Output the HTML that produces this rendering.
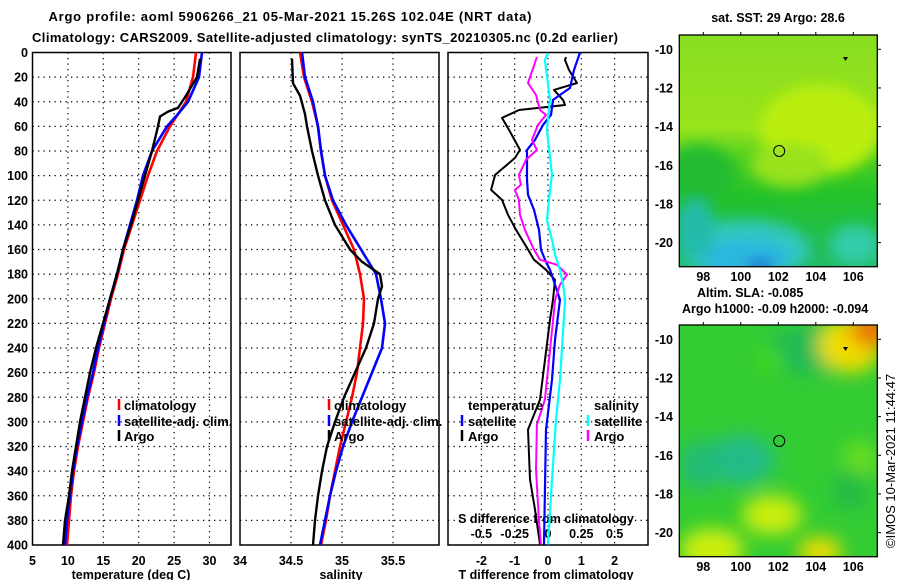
<!DOCTYPE html>
<html><head><meta charset="utf-8"><style>
html,body{margin:0;padding:0;background:#fff;}
svg{display:block;font-family:"Liberation Sans",Arial,sans-serif;}
.t{font-weight:bold;font-size:13px;fill:#000;}
.tk{font-weight:bold;font-size:12.5px;fill:#000;}
</style></head><body>
<svg id="s" width="900" height="580" viewBox="0 0 900 580" xmlns="http://www.w3.org/2000/svg">
<defs>
<filter id="blur1" x="-20%" y="-20%" width="140%" height="140%"><feGaussianBlur stdDeviation="7"/></filter>
<filter id="blur2" x="-20%" y="-20%" width="140%" height="140%"><feGaussianBlur stdDeviation="9"/></filter>
<clipPath id="c1"><rect x="679.3" y="35" width="198" height="231.7"/></clipPath>
<clipPath id="c2"><rect x="679.3" y="325" width="198" height="231.7"/></clipPath>
<linearGradient id="g1" x1="0" y1="0" x2="0" y2="1">
<stop offset="0" stop-color="#88dd22"/><stop offset="0.4" stop-color="#99e41c"/><stop offset="0.55" stop-color="#44cc22"/><stop offset="0.7" stop-color="#22c22a"/><stop offset="1" stop-color="#22bb66"/></linearGradient>
</defs>
<text class="t" x="290" y="21" text-anchor="middle" textLength="483">Argo profile: aoml 5906266_21 05-Mar-2021 15.26S 102.04E (NRT data)</text>
<text class="t" x="325" y="42" text-anchor="middle" textLength="586">Climatology: CARS2009. Satellite-adjusted climatology: synTS_20210305.nc (0.2d earlier)</text>
<g id="p1"></g>
<g id="p2"></g>
<g id="p3"></g>

<g>
<text class="tk" x="778" y="22" text-anchor="middle">sat. SST: 29 Argo: 28.6</text>
<g clip-path="url(#c1)">
<rect x="679.3" y="35" width="198" height="231.7" fill="url(#g1)"/>
<g filter="url(#blur1)">
<ellipse cx="820" cy="130" rx="60" ry="45" fill="#bbee11"/>
<ellipse cx="790" cy="165" rx="40" ry="22" fill="#99e21c"/>
<ellipse cx="700" cy="175" rx="35" ry="30" fill="#22bb33"/>
<ellipse cx="745" cy="250" rx="65" ry="30" fill="#33c8c0"/>
<ellipse cx="745" cy="258" rx="45" ry="18" fill="#2ab8e0"/>
<ellipse cx="855" cy="245" rx="25" ry="20" fill="#33ccaa"/>
<ellipse cx="695" cy="230" rx="20" ry="30" fill="#22bbaa"/>
<ellipse cx="760" cy="266" rx="14" ry="6" fill="#2255cc"/>
</g>
</g>
<rect x="679.3" y="35" width="198" height="231.7" fill="none" stroke="#000" stroke-width="1.3"/>
<circle cx="779.2" cy="151" r="5.5" fill="none" stroke="#000" stroke-width="1"/>
<path d="M843 57 l5 0 l-2.5 4z" fill="#000"/>
<g id="m1ax"></g>
</g>
<text class="tk" x="697" y="297">Altim. SLA: -0.085</text>
<text class="tk" x="682" y="313">Argo h1000: -0.09 h2000: -0.094</text>
<g>
<g clip-path="url(#c2)">
<rect x="679.3" y="325" width="198" height="231.7" fill="#33cc33"/>
<g filter="url(#blur2)">
<ellipse cx="740" cy="460" rx="35" ry="25" fill="#22bb88"/>
<ellipse cx="700" cy="465" rx="20" ry="25" fill="#22bb77"/>
<ellipse cx="810" cy="350" rx="40" ry="25" fill="#22bb55"/>
<ellipse cx="850" cy="345" rx="32" ry="28" fill="#eedd00"/>
<ellipse cx="872" cy="330" rx="22" ry="18" fill="#ee7700"/>
<ellipse cx="772" cy="515" rx="30" ry="20" fill="#ccee11"/>
<ellipse cx="712" cy="550" rx="32" ry="22" fill="#ccee11"/>
<ellipse cx="820" cy="552" rx="22" ry="15" fill="#eedd00"/>
<ellipse cx="770" cy="360" rx="12" ry="10" fill="#44dd11"/>
<ellipse cx="860" cy="460" rx="18" ry="20" fill="#66dd22"/>
<ellipse cx="850" cy="490" rx="18" ry="20" fill="#22bb44"/>
</g>
</g>
<rect x="679.3" y="325" width="198" height="231.7" fill="none" stroke="#000" stroke-width="1.3"/>
<circle cx="779.2" cy="441" r="5.5" fill="none" stroke="#000" stroke-width="1"/>
<path d="M843 347 l5 0 l-2.5 4z" fill="#000"/>
<g id="m2ax"></g>
</g>
<text x="895" y="548" font-size="13" transform="rotate(-90 895 548)">©IMOS 10-Mar-2021 11:44:47</text>
</svg>
<script>
// ---------- data ----------
const depthTicks=[0,20,40,60,80,100,120,140,160,180,200,220,240,260,280,300,320,340,360,380,400];
const tempTicks=[5,10,15,20,25,30];
const salTicks=["34","34.5","35","35.5"];
const tdTicks=[-2,-1,0,1,2];
const sdTicks=["-0.5","-0.25","0","0.25","0.5"];
const lonTicks=[98,100,102,104,106];
const latTicks=[-10,-12,-14,-16,-18,-20];

const climDepth=[0,20,40,50,60,80,100,120,140,160,180,200,220,240,260,280,300,320,340,360,380,400];
const tempClim=[28.09,27.67,26.68,25.55,24.42,22.58,21.31,20.18,19.05,17.92,17.08,16.09,15.24,14.39,13.69,12.84,12.13,11.43,10.86,10.44,10.16,9.87];
const tempSat=[28.94,28.52,26.96,25.55,24.0,21.88,20.61,19.76,18.77,17.78,16.94,15.95,15.1,14.25,13.55,12.7,11.99,11.29,10.72,10.3,9.87,9.59];
const argoTDepth=[5,20,35,45,48,52,60,80,100,120,140,160,180,200,220,240,260,280,300,320,340,360,380,400];
const tempArgo=[28.66,28.23,26.68,25.55,24.14,23.01,22.73,21.88,20.89,19.9,18.91,17.78,16.94,15.95,14.96,13.97,13.12,12.42,11.71,11.14,10.58,10.16,9.59,9.31];

const salDepth=[0,20,40,60,80,100,120,140,160,180,200,220,240,260,280,300,320,340,360,380,400];
const salClim=[34.588,34.627,34.706,34.765,34.794,34.833,34.902,35.01,35.118,35.176,35.216,35.206,35.176,35.147,35.098,35.039,34.98,34.931,34.882,34.843,34.794];
const salSat=[34.608,34.637,34.716,34.765,34.794,34.833,34.912,35.039,35.186,35.333,35.382,35.422,35.392,35.294,35.196,35.098,35.01,34.941,34.882,34.833,34.784];
const argoSDepth=[5,25,35,50,60,80,100,120,140,160,170,180,190,200,220,240,260,280,300,320,340,360,380,400];
const salArgo=[34.51,34.52,34.588,34.637,34.657,34.706,34.765,34.833,34.931,35.078,35.196,35.373,35.392,35.353,35.314,35.235,35.127,35.02,34.931,34.853,34.804,34.765,34.735,34.716];

const dTArgoDepth=[3.7,6.1,14.2,24.8,30.4,38.5,42.6,46.7,53.1,62.9,79.1,85.6,99.4,111.6,119.7,131.8,144,158.6,168.3,176.5,184.6,200.8,217,249.5,281.9,306.3,346.8,371.2,399.6];
const dTArgo=[0.54,0.51,0.63,0.87,0.18,0.45,0.51,-0.87,-1.38,-1.17,-0.84,-0.99,-1.59,-1.71,-1.38,-1.2,-0.96,-0.63,-0.42,-0.06,0.21,0.15,0.06,-0.09,-0.24,-0.6,-0.54,-0.39,-0.24];
const dTSatDepth=[0,14.2,28.8,38.5,50.7,58.8,71,79.1,103.4,115.6,127.8,144,160.2,168.3,176.5,188.6,200.8,233.3,265.7,306.3,399.6];
const dTSat=[0.96,0.78,0.66,0.15,0.09,-0.15,-0.39,-0.63,-0.63,-0.6,-0.42,-0.27,-0.21,-0.09,0.06,0.21,0.36,0.21,0.12,-0.06,-0.12];
const dSArgoDepth=[3.7,24.8,34.5,46.7,50.7,58.8,71,79.1,87.2,99.4,107.5,111.6,119.7,131.8,144,160.2,168.3,172.4,180.5,188.6,200.8,217,281.9,302.2,338.7,379.3,399.6];
const dSArgo=[-0.083,-0.15,-0.09,-0.06,-0.015,-0.075,-0.12,-0.083,-0.165,-0.218,-0.203,-0.248,-0.218,-0.21,-0.173,-0.105,-0.06,0.068,0.143,0.09,0.053,0.038,-0.023,-0.083,-0.09,-0.068,-0.053];
const dSSatDepth=[0.4,6.1,38.5,62.9,99.4,111.6,135.9,152.1,164.3,176.5,188.6,200.8,265.7,298.2,346.8,399.6];
const dSSat=[0,-0.023,0.015,-0.008,0.03,0.015,-0.008,0.03,0.053,0.09,0.113,0.128,0.09,0.06,0.03,0];

// ---------- helpers ----------
const NS="http://www.w3.org/2000/svg";
function mk(tag,attrs,parent){const e=document.createElementNS(NS,tag);for(const k in attrs)e.setAttribute(k,attrs[k]);parent.appendChild(e);return e;}
const TOP=52.5,BOT=545;
const yD=d=>TOP+(d/400)*(BOT-TOP);
const xT=t=>32.5+(t-5)*7.08;
const xS=s=>240+(s-34)*102;
const xdT=v=>548+v*33.3;
const xdS=v=>548+v*133.3;

function panel(g,x0,x1,gridX,name){
  depthTicks.forEach(d=>{if(d>0&&d<400){const l=mk('line',{x1:x0,x2:x1,y1:yD(d),y2:yD(d),stroke:'#000','stroke-width':1.2,'stroke-dasharray':'1.3 4.2'},g);
  
  }});
  gridX.forEach(x=>{const l=mk('line',{x1:x,x2:x,y1:TOP,y2:BOT,stroke:'#000','stroke-width':1.2,'stroke-dasharray':'1.3 4.2'},g);
  
  });
  const r=mk('rect',{x:x0,y:TOP,width:x1-x0,height:BOT-TOP,fill:'none',stroke:'#000','stroke-width':1.5},g);
  
  
}
function line(g,xs,ys,fx,color,w,name){
  const pts=xs.map((v,i)=>fx(v).toFixed(1)+','+yD(ys[i]).toFixed(1)).join(' ');
  const p=mk('polyline',{points:pts,fill:'none',stroke:color,'stroke-width':w,'stroke-linejoin':'round'},g);
  
  
}
function txt(g,x,y,s,anchor,cls,name){
  const t=mk('text',{x:x,y:y,'text-anchor':anchor||'start',class:cls||'tk'},g);t.textContent=s;
  
  
  return t;
}
function legTick(g,x,yc,color,name){
  const l=mk('line',{x1:x,x2:x,y1:yc-6,y2:yc+5,stroke:color,'stroke-width':2.5},g);
  
  
}

// ---------- panel 1 ----------
const p1=document.getElementById('p1');
panel(p1,32.5,231,tempTicks.filter(t=>t>5&&t<33).map(xT),'temp');
depthTicks.forEach(d=>txt(p1,28,yD(d)+4.5,String(d),'end','tk','depth-tick-label'));
tempTicks.forEach(t=>txt(p1,xT(t),565,String(t),'middle','tk','temp-tick-label'));
txt(p1,131,579,'temperature (deg C)','middle','tk','temp-axis-title');
line(p1,tempClim,climDepth,xT,'#ff0000',2.6,'temp-climatology-line');
line(p1,tempSat,climDepth,xT,'#0000ff',2.6,'temp-satellite-line');
line(p1,tempArgo,argoTDepth,xT,'#000000',2.4,'temp-argo-line');
legTick(p1,119,405,'#ff0000','legend-climatology-swatch');txt(p1,124,410,'climatology','start','t','legend-climatology');
legTick(p1,119,421,'#0000ff','legend-satellite-swatch');txt(p1,124,426,'satellite-adj. clim.','start','t','legend-satellite-adj');
legTick(p1,119,436,'#000000','legend-argo-swatch');txt(p1,124,441,'Argo','start','t','legend-argo');

// ---------- panel 2 ----------
const p2=document.getElementById('p2');
panel(p2,240,439,[34.5,35,35.5].map(xS),'sal');
salTicks.forEach(s=>txt(p2,xS(+s),565,s,'middle','tk','sal-tick-label'));
txt(p2,341,579,'salinity','middle','tk','sal-axis-title');
line(p2,salClim,salDepth,xS,'#ff0000',2.6,'sal-climatology-line');
line(p2,salSat,salDepth,xS,'#0000ff',2.6,'sal-satellite-line');
line(p2,salArgo,argoSDepth,xS,'#000000',2.4,'sal-argo-line');
legTick(p2,329,405,'#ff0000','legend2-climatology-swatch');txt(p2,334,410,'climatology','start','t','legend2-climatology');
legTick(p2,329,421,'#0000ff','legend2-satellite-swatch');txt(p2,334,426,'satellite-adj. clim.','start','t','legend2-satellite-adj');
legTick(p2,329,436,'#000000','legend2-argo-swatch');txt(p2,334,441,'Argo','start','t','legend2-argo');

// ---------- panel 3 ----------
const p3=document.getElementById('p3');
panel(p3,448,648,[-2,-1,0,1,2].map(xdT),'diff');
tdTicks.forEach(t=>txt(p3,xdT(t),565,String(t),'middle','tk','tdiff-tick-label'));
txt(p3,546,579,'T difference from climatology','middle','tk','tdiff-axis-title');
sdTicks.forEach(s=>txt(p3,xdS(+s),538,s,'middle','tk','sdiff-tick-label'));
txt(p3,546,523,'S difference from climatology','middle','tk','sdiff-axis-title');
line(p3,dTArgo,dTArgoDepth,xdT,'#000000',2,'tdiff-argo-line');
line(p3,dTSat,dTSatDepth,xdT,'#0000ff',2.2,'tdiff-satellite-line');
line(p3,dSArgo,dSArgoDepth,xdS,'#ff00ff',2,'sdiff-argo-line');
line(p3,dSSat,dSSatDepth,xdS,'#00ffff',2.2,'sdiff-satellite-line');
txt(p3,468,410,'temperature','start','t','legend3-temperature-heading');
legTick(p3,462,421,'#0000ff','legend3-tsat-swatch');txt(p3,468,426,'satellite','start','t','legend3-tsat');
legTick(p3,462,436,'#000000','legend3-targo-swatch');txt(p3,468,441,'Argo','start','t','legend3-targo');
txt(p3,594,410,'salinity','start','t','legend3-salinity-heading');
legTick(p3,588,421,'#00ffff','legend3-ssat-swatch');txt(p3,594,426,'satellite','start','t','legend3-ssat');
legTick(p3,588,436,'#ff00ff','legend3-sargo-swatch');txt(p3,594,441,'Argo','start','t','legend3-sargo');

// ---------- map axes ----------
function mapAxes(id,yoff,name){
  const g=document.getElementById(id);
  const xL=lon=>679.3+(lon-96.72)*18.75;
  const yL=lat=>35+yoff+(-9.26-lat)*19.33;
  lonTicks.forEach(l=>{mk('line',{x1:xL(l),x2:xL(l),y1:35+yoff-3,y2:35+yoff,stroke:'#000'},g);
    txt(g,xL(l),281+yoff,String(l),'middle','tk',name+'-lon-label');});
  latTicks.forEach(l=>{mk('line',{x1:877,x2:881,y1:yL(l),y2:yL(l),stroke:'#000'},g);
    txt(g,673,yL(l)+4.5,String(l),'end','tk',name+'-lat-label');});
}
mapAxes('m1ax',0,'sst-map');
mapAxes('m2ax',290,'sla-map');
</script>
</body></html>
